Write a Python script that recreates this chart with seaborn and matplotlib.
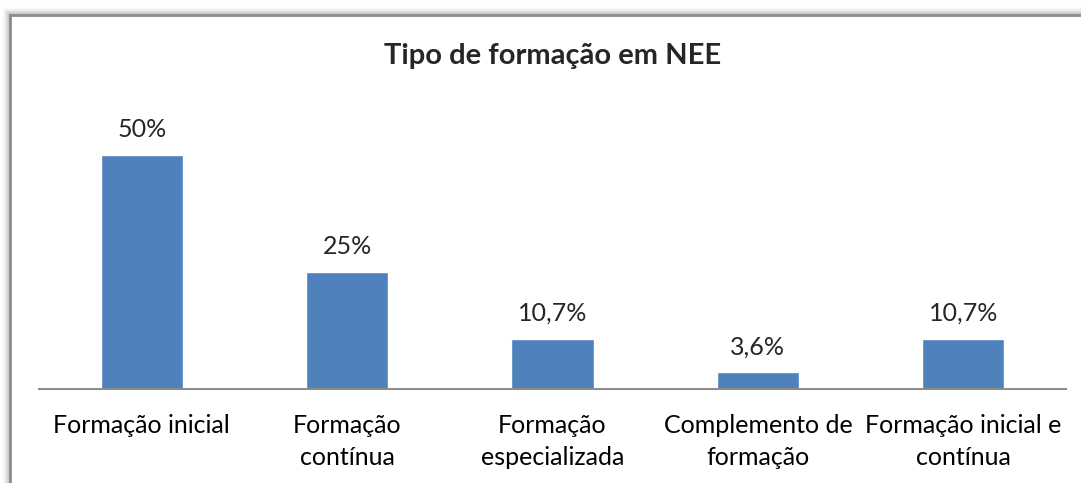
import numpy as np
import pandas as pd
import seaborn as sns
import matplotlib.pyplot as plt
from matplotlib.patches import Rectangle

categories = ['Formação inicial', 'Formação\ncontínua', 'Formação\nespecializada',
              'Complemento de\nformação', 'Formação inicial e\ncontínua']
values = [50, 25, 10.7, 3.6, 10.7]
labels = ['50%', '25%', '10,7%', '3,6%', '10,7%']

df = pd.DataFrame({'cat': categories, 'val': values})

sns.set_style('white')
plt.rcParams['font.family'] = ['Lato', 'DejaVu Sans']

fig = plt.figure(figsize=(10.81, 4.83), dpi=100)
W, H = 1081, 483

# excel-ish frame with a soft shadow
for i, a in enumerate(np.linspace(0.02, 0.12, 8)):
    off = 8 - i
    fig.patches.append(Rectangle(((10 - off) / W, 0), 1.2, (483 - 15 + off) / H,
                                 transform=fig.transFigure, facecolor='black',
                                 alpha=a * 0.5, edgecolor='none', zorder=0))
fig.patches.append(Rectangle((10 / W, -0.1), 1.2, (483 - 15) / H + 0.1,
                             transform=fig.transFigure, facecolor='white',
                             edgecolor='#8c8c8c', linewidth=2, zorder=1))

ax = fig.add_axes([39 / W, (H - 389) / H, (1066 - 39) / W, (389 - 108) / H])
ax.set_zorder(2)
ax.patch.set_alpha(0)
sns.barplot(data=df, x='cat', y='val', color='#4F81BD', saturation=1, width=0.4, ax=ax)
ax.set_ylim(0, 60)
ax.set_xlim(-0.5, 4.5)
ax.set_yticks([])
ax.set_xlabel('')
ax.set_ylabel('')
for s in ['top', 'right', 'left']:
    ax.spines[s].set_visible(False)
ax.spines['bottom'].set_color('#8c8c8c')
ax.spines['bottom'].set_linewidth(1.5)
ax.tick_params(axis='x', length=0, pad=18, labelsize=18)
for t in ax.get_xticklabels():
    t.set_linespacing(1.45)
    t.set_color('black')

for i, (v, lab) in enumerate(zip(values, labels)):
    ax.annotate(lab, (i, v), xytext=(0, 10), textcoords='offset points',
                ha='center', va='bottom', fontsize=18)

fig.text(553 / W, 1 - 56 / H, 'Tipo de formação em NEE', ha='center', va='center',
         fontsize=21, fontweight='bold', zorder=3)

fig.savefig('out.png', dpi=100)
